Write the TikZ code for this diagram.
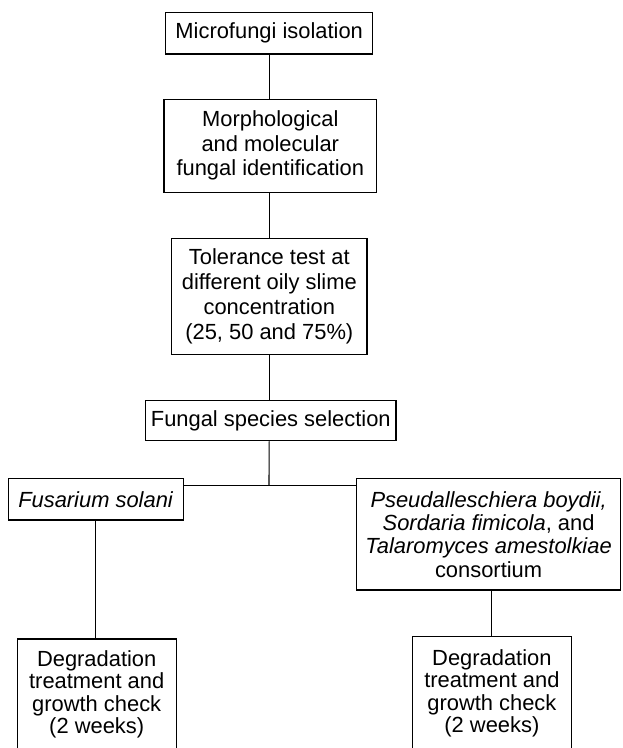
\documentclass[tikz,border=0pt]{standalone}
\usepackage{fontspec}
\setmainfont{Liberation Sans}
\usetikzlibrary{calc}
\begin{document}
\begin{tikzpicture}[x=1pt,y=-1pt,line width=1.1pt,stage/.style={draw,inner sep=0pt,align=center,font=\fontsize{21.9}{24.5}\selectfont},tightstage/.style={stage,font=\fontsize{21.9}{22.5}\selectfont}]
\useasboundingbox(0,0)rectangle(622,748);\clip(0,0)rectangle(622,748);
\node[stage,minimum width=207pt,minimum height=41.3pt](iso)at(269.2,33.3){Microfungi isolation};
\node[stage,minimum width=212.7pt,minimum height=93.3pt](ident)at(270.3,145.7){Morphological\\and molecular\\fungal identification};
\node[stage,minimum width=195.3pt,minimum height=116.3pt,font=\fontsize{21.9}{24.9}\selectfont](tol)at(269.3,296.2){Tolerance test at\\different oily slime\\concentration\\(25, 50 and 75\%)};
\node[stage,minimum width=250.3pt,minimum height=40pt](sel)at(270.8,420.7){Fungal species selection};
\node[stage,minimum width=175pt,minimum height=41.3pt](fus)at(95.8,499.3){\textit{Fusarium solani}};
\node[stage,minimum width=263.8pt,minimum height=111.3pt,font=\fontsize{21.9}{23.3}\selectfont](cons)at(488.6,534.3){\textit{Pseudalleschiera boydii,}\\\textit{Sordaria fimicola}, and\\\textit{Talaromyces amestolkiae}\\consortium};
\node[tightstage,minimum width=158.7pt,minimum height=111pt](degl)at(96.7,694.5){Degradation\\treatment and\\growth check\\(2 weeks)};
\node[tightstage,minimum width=158.3pt,minimum height=113pt](degr)at(491.9,693.2){Degradation\\treatment and\\growth check\\(2 weeks)};
\coordinate(split)at(269,485.5);
\draw(iso)--(iso|-ident.north);\draw(iso|-ident.south)--(iso|-tol.north);\draw(iso|-tol.south)--(iso|-sel.north);\draw(iso|-sel.south)--(split);
\draw(fus.east|-split)--(cons.west|-split);
\draw(fus)--(fus|-degl.north);\draw(degr)--(degr|-cons.south);
\end{tikzpicture}
\end{document}
